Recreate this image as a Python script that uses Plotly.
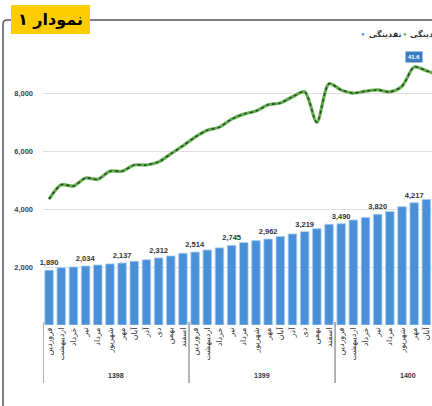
import plotly.graph_objects as go

# ---------------- data ----------------
months = ["فروردین", "اردیبهشت", "خرداد", "تیر", "مرداد", "شهریور",
          "مهر", "آبان", "آذر", "دی", "بهمن", "اسفند"]
years = ["1398", "1399", "1400"]

# liquidity (thousand billion tomans), monthly from Farvardin 1398
liquidity = [1890, 1975, 2000, 2034, 2070, 2105, 2137, 2200, 2250, 2312, 2380, 2475,
             2514, 2585, 2660, 2745, 2840, 2910, 2962, 3050, 3140, 3219, 3320, 3475,
             3490, 3620, 3710, 3820, 3910, 4080, 4217, 4330]
# liquidity growth (%), same months
growth = [20.3, 22.6, 22.4, 23.7, 23.5, 24.8, 24.8, 25.8, 25.8, 26.3, 27.6, 28.9,
          30.3, 31.4, 31.9, 33.2, 34.0, 34.5, 35.5, 35.8, 36.8, 37.6, 32.7, 38.9,
          37.9, 37.4, 37.7, 37.9, 37.6, 38.5, 41.6, 41.0, 40.3]
label_every = 3
peak_index = 30
y_ticks = [2000, 4000, 6000, 8000]

title_text = "نمودار ۱"
legend_bar = "نقدینگی"
legend_line = "رشد نقدینگی"

# ---------------- layout geometry ----------------
W, H = 432, 406
PL, PR, PT, PB = 43, 432, 50, 325


def px_x(p):
    return (p - PL) / (PR - PL)


def px_y(p):
    return (PB - p) / (PB - PT)


def rtl(s):
    return "\u202B" + s + "\u202C"


n_bars = len(liquidity)
x_bar = list(range(n_bars))
x_line = list(range(len(growth)))
tick_text = [months[i % 12] for i in range(n_bars)]
bar_text = [f"{v:,}" if i % label_every == 0 else "" for i, v in enumerate(liquidity)]

BLUE = "#4a90d8"
GREEN = "#62b04c"
DARK = "#2e4a2e"

fig = go.Figure()
fig.add_trace(go.Bar(
    x=x_bar, y=liquidity, marker=dict(color=BLUE, line=dict(color="#a6cdf2", width=0.8)),
    text=bar_text, textposition="outside", constraintext="none", cliponaxis=False,
    textfont=dict(family="Liberation Sans", size=7.5, color="#333", weight="bold"),
    showlegend=False, hoverinfo="skip"))
fig.add_trace(go.Scatter(
    x=x_line, y=growth, yaxis="y2", mode="lines",
    line=dict(color=GREEN, width=3.2, shape="spline", smoothing=0.8),
    showlegend=False, hoverinfo="skip"))
fig.add_trace(go.Scatter(
    x=x_line, y=growth, yaxis="y2", mode="lines",
    line=dict(color=DARK, width=1.6, dash="dot", shape="spline", smoothing=0.8),
    showlegend=False, hoverinfo="skip"))

y_max = (PB - PT) / 29.0 * 1000
y2_max = growth[peak_index] * (PB - PT) / (PB - 67)

shapes = []
# year separators
for b in [-0.5, 11.5, 23.5]:
    shapes.append(dict(type="line", xref="x", yref="paper", x0=b, x1=b,
                       y0=px_y(322), y1=px_y(383), line=dict(color="#9a9a9a", width=1.5)))
# frame
r_x, r_y = 4 / (PR - PL), 4 / (PB - PT)
fx, fy = px_x(3), px_y(20)
shapes.append(dict(type="path", xref="paper", yref="paper",
                   path=f"M 1.02,{fy} L {fx + r_x},{fy} Q {fx},{fy} {fx},{fy - r_y} L {fx},{px_y(420)}",
                   line=dict(color="#555555", width=1.5)))
# title box
shapes.append(dict(type="rect", xref="paper", yref="paper",
                   x0=px_x(11), x1=px_x(90), y0=px_y(34), y1=px_y(5),
                   fillcolor="#FFCC00", line=dict(width=0), layer="above"))

annotations = []
annotations.append(dict(xref="paper", yref="paper", x=px_x(50.5), y=px_y(19.5),
                        xanchor="center", yanchor="middle",
                        text=f"<b>{rtl(title_text)}</b>", showarrow=False,
                        font=dict(family="DejaVu Sans", size=16, color="black")))
# year labels
for i, yr in enumerate(years):
    annotations.append(dict(xref="x", yref="paper", x=12 * i + 5.5, y=px_y(375),
                            xanchor="center", yanchor="middle",
                            text=f"<b>{yr}</b>", showarrow=False,
                            font=dict(family="Liberation Sans", size=7, color="#333")))
# peak label
annotations.append(dict(xref="x", yref="y2", x=peak_index, y=growth[peak_index],
                        xanchor="center", yanchor="middle",
                        text=f"<b>{growth[peak_index]}</b>", showarrow=False, yshift=10,
                        bgcolor="#3b7dc0", borderpad=2,
                        font=dict(family="Liberation Sans", size=6, color="white")))
# legend
ly = px_y(34)
annotations += [
    dict(xref="paper", yref="paper", x=px_x(363), y=ly, xanchor="center", yanchor="middle",
         text="●", showarrow=False, font=dict(size=6, color=BLUE)),
    dict(xref="paper", yref="paper", x=px_x(367), y=ly, xanchor="left", yanchor="middle",
         text=f"<b>{legend_bar}</b>", showarrow=False,
         font=dict(family="DejaVu Sans", size=8, color="#333")),
    dict(xref="paper", yref="paper", x=px_x(405), y=ly, xanchor="center", yanchor="middle",
         text="●", showarrow=False, font=dict(size=6, color=GREEN)),
    dict(xref="paper", yref="paper", x=px_x(408), y=ly, xanchor="left", yanchor="middle",
         text=f"<b>{legend_line}</b>", showarrow=False,
         font=dict(family="DejaVu Sans", size=8, color="#333")),
]

fig.update_layout(
    width=W, height=H,
    margin=dict(l=PL, r=W - PR, t=PT, b=H - PB, autoexpand=False),
    paper_bgcolor="white", plot_bgcolor="white",
    bargap=0.3,
    xaxis=dict(range=[-0.5, (PR - PL) / 12.17 - 0.5], tickvals=x_bar, ticktext=tick_text,
               tickangle=-90, showgrid=False, zeroline=False, showline=False, ticks="",
               tickfont=dict(family="DejaVu Sans", size=8, color="#333"), automargin=False),
    yaxis=dict(range=[0, y_max], tickvals=y_ticks, tickformat=",", showgrid=True,
               gridcolor="#dedede", gridwidth=1, zeroline=False, showline=False,
               ticklabelstandoff=9,
               tickfont=dict(family="Liberation Sans", size=7.5, color="#444", weight="bold"),
               automargin=False),
    yaxis2=dict(range=[0, y2_max], overlaying="y", visible=False),
    shapes=shapes, annotations=annotations,
)

fig.write_html("out.html", config={"displayModeBar": False},
               post_script="document.body.style.margin='0';document.body.style.overflow='hidden';")
